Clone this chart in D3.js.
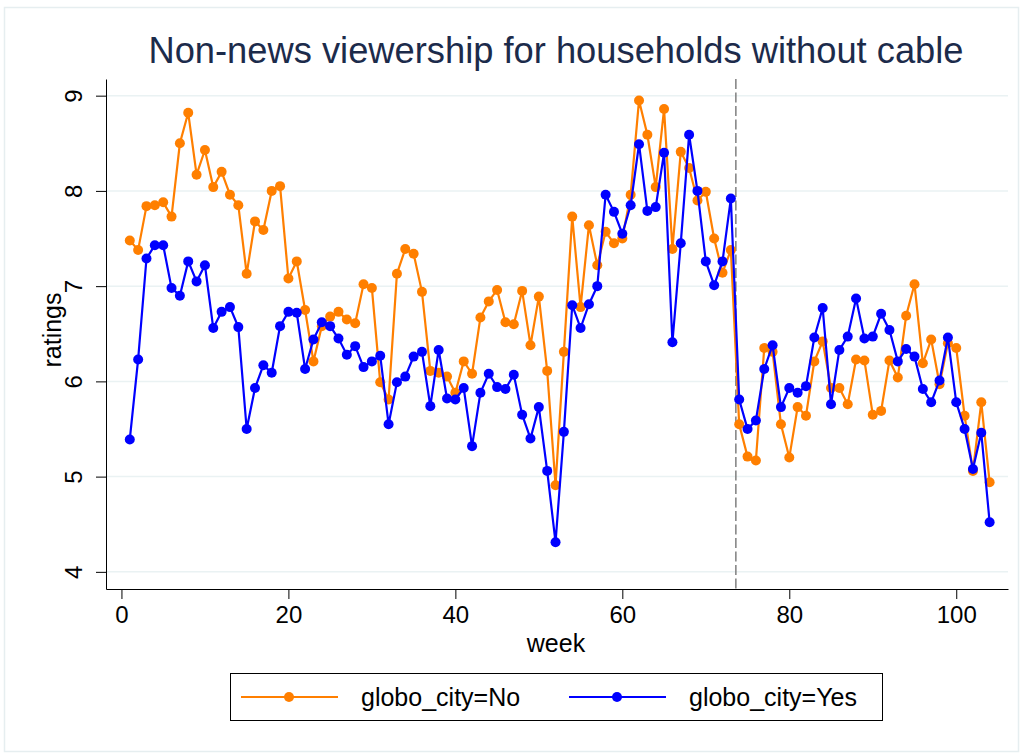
<!DOCTYPE html>
<html><head><meta charset="utf-8">
<script src="https://cdn.jsdelivr.net/npm/d3@7"></script>
<style>html,body{margin:0;padding:0;background:#fff;}svg{display:block;}</style>
</head><body>
<script>
const weeks = d3.range(1, 105);
const seriesNames = ["globo_city=No", "globo_city=Yes"];
const globoNo = [7.48,7.38,7.84,7.85,7.88,7.73,8.50,8.82,8.17,8.43,8.04,8.20,7.96,7.85,7.13,7.68,7.59,8.00,8.05,7.08,
7.26,6.75,6.21,6.58,6.68,6.73,6.65,6.61,7.02,6.98,5.99,5.81,7.13,7.39,7.34,6.94,6.11,6.09,6.05,5.88,
6.21,6.08,6.67,6.84,6.96,6.62,6.60,6.95,6.38,6.89,6.11,4.91,6.31,7.73,6.78,7.64,7.22,7.57,7.45,7.50,
7.96,8.95,8.59,8.04,8.86,7.39,8.41,8.24,7.90,7.99,7.50,7.14,7.38,5.55,5.21,5.17,6.35,6.31,5.55,5.20,
5.73,5.64,6.21,6.42,5.93,5.93,5.76,6.23,6.22,5.65,5.69,6.22,6.04,6.69,7.02,6.19,6.44,5.97,6.40,6.35,
5.64,5.06,5.78,4.94];
const globoYes = [5.39,6.23,7.29,7.43,7.43,6.98,6.90,7.26,7.05,7.22,6.56,6.73,6.78,6.57,5.50,5.93,6.17,6.09,6.58,6.73,
6.72,6.13,6.44,6.62,6.58,6.45,6.28,6.37,6.15,6.21,6.27,5.55,5.99,6.05,6.26,6.31,5.74,6.33,5.82,5.81,
5.93,5.32,5.88,6.08,5.94,5.92,6.07,5.65,5.40,5.73,5.06,4.31,5.47,6.80,6.56,6.81,7.00,7.96,7.78,7.55,
7.85,8.49,7.79,7.83,8.40,6.41,7.45,8.59,8.00,7.26,7.01,7.26,7.92,5.81,5.50,5.59,6.13,6.38,5.73,5.93,
5.88,5.95,6.46,6.77,5.76,6.33,6.47,6.87,6.45,6.47,6.71,6.54,6.21,6.34,6.26,5.92,5.78,6.01,6.46,5.78,
5.50,5.08,5.46,4.52];
const xTicks = [0, 20, 40, 60, 80, 100];
const yTicks = [4, 5, 6, 7, 8, 9];
const cutoffWeek = 73.6;
const colors = ["#ff7f00", "#0000ff"];

const W = 1023, H = 754;
const FONT = "'Liberation Sans', Arial, sans-serif";
const svg = d3.select("body").append("svg").attr("width", W).attr("height", H)
  .style("font-family", FONT);

svg.append("rect").attr("x", 4.5).attr("y", 7.5).attr("width", 1014).attr("height", 744)
  .attr("fill", "#fff").attr("stroke", "#e6eef0").attr("stroke-width", 1.5);

const x = d3.scaleLinear().domain([-1.85, 106.2]).range([106, 1008]);
const y = d3.scaleLinear().domain([3.82, 9.175]).range([589, 79]);

// gridlines
svg.append("g").selectAll("line").data(yTicks).join("line")
  .attr("x1", 106).attr("x2", 1008).attr("y1", d => y(d)).attr("y2", d => y(d))
  .attr("stroke", "#eaf2f3").attr("stroke-width", 1.5);

// dashed reference line
svg.append("line").attr("x1", x(cutoffWeek)).attr("x2", x(cutoffWeek))
  .attr("y1", 79).attr("y2", 589).attr("stroke", "#7f7f7f").attr("stroke-width", 1.5)
  .attr("stroke-dasharray", "10,3.5");

// axes
const gx = svg.append("g").attr("transform", "translate(0,589)")
  .call(d3.axisBottom(x).tickValues(xTicks).tickFormat(d3.format("d")).tickSize(10).tickSizeOuter(0).tickPadding(7));
const gy = svg.append("g").attr("transform", "translate(106,0)")
  .call(d3.axisLeft(y).tickValues(yTicks).tickFormat(d3.format("d")).tickSize(10).tickSizeOuter(0));
[gx, gy].forEach(g => {
  g.selectAll("path, line").attr("stroke", "#000").attr("stroke-width", 1);
  g.selectAll("text").attr("fill", "#000").style("font-size", "24px").style("font-family", FONT);
});
gy.selectAll(".tick text").attr("x", null).attr("y", null).attr("dy", null)
  .attr("text-anchor", "middle").attr("dominant-baseline", "central")
  .attr("transform", "translate(-33,0) rotate(-90)");

// axis titles
svg.append("text").attr("x", 556).attr("y", 652).attr("text-anchor", "middle")
  .style("font-size", "25px").text("week");
svg.append("text").attr("transform", "translate(52,330) rotate(-90)").attr("text-anchor", "middle")
  .attr("dominant-baseline", "central").style("font-size", "25px").text("ratings");

// title
svg.append("text").attr("x", 556).attr("y", 63).attr("text-anchor", "middle")
  .attr("fill", "#1c2b4b").style("font-size", "36.3px")
  .text("Non-news viewership for households without cable");

// series
const series = [globoNo, globoYes];
const line = d3.line().x((d, i) => x(weeks[i])).y(d => y(d));
series.forEach((vals, k) => {
  const g = svg.append("g");
  g.append("path").datum(vals).attr("d", line).attr("fill", "none")
    .attr("stroke", colors[k]).attr("stroke-width", 2.2);
  g.selectAll("circle").data(vals).join("circle")
    .attr("cx", (d, i) => x(weeks[i])).attr("cy", d => y(d)).attr("r", 5)
    .attr("fill", colors[k]);
});

// legend
const lg = svg.append("g");
lg.append("rect").attr("x", 230.5).attr("y", 673.5).attr("width", 652).attr("height", 47)
  .attr("fill", "#fff").attr("stroke", "#000").attr("stroke-width", 1);
const legX = [241, 569];
seriesNames.forEach((name, k) => {
  lg.append("line").attr("x1", legX[k]).attr("x2", legX[k] + 97).attr("y1", 697).attr("y2", 697)
    .attr("stroke", colors[k]).attr("stroke-width", 2.2);
  lg.append("circle").attr("cx", legX[k] + 48).attr("cy", 697).attr("r", 5).attr("fill", colors[k]);
  lg.append("text").attr("x", legX[k] + 120).attr("y", 697).attr("dominant-baseline", "central")
    .style("font-size", "25px").text(name);
});
</script>
</body></html>
